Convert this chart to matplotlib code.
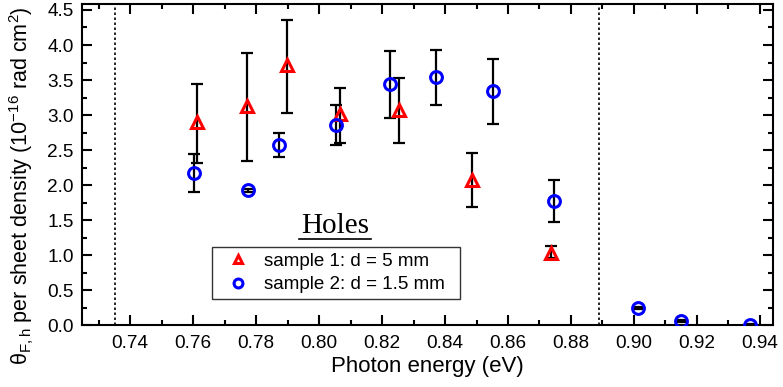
import matplotlib
matplotlib.use("Agg")
import matplotlib.pyplot as plt
from matplotlib.ticker import MultipleLocator
from matplotlib.lines import Line2D

plt.rcParams['font.family'] = ['Liberation Sans', 'DejaVu Sans']
plt.rcParams['mathtext.fontset'] = 'custom'
plt.rcParams['mathtext.rm'] = 'Liberation Sans'
plt.rcParams['mathtext.it'] = 'Liberation Sans:italic'
plt.rcParams['mathtext.bf'] = 'Liberation Sans:bold'

# Sample 1 (red triangles)
s1_energy = [0.7611, 0.7770, 0.7898, 0.8066, 0.8253, 0.8487, 0.8738]
s1_value = [2.90, 3.13, 3.71, 3.01, 3.08, 2.08, 1.04]
s1_err_hi = [3.44, 3.88, 4.36, 3.38, 3.53, 2.46, 1.13]
s1_err_lo = [2.31, 2.34, 3.03, 2.60, 2.60, 1.69, 0.96]

# Sample 2 (blue circles)
s2_energy = [0.7602, 0.7773, 0.7873, 0.8055, 0.8224, 0.8370, 0.8552, 0.8745, 0.9013, 0.9150, 0.9367]
s2_value = [2.18, 1.93, 2.58, 2.86, 3.45, 3.54, 3.345, 1.77, 0.245, 0.064, 0.007]
s2_err_hi = [2.44, 1.95, 2.75, 3.14, 3.92, 3.93, 3.80, 2.07, 0.26, 0.08, 0.02]
s2_err_lo = [1.91, 1.91, 2.40, 2.58, 2.96, 3.14, 2.88, 1.47, 0.23, 0.05, 0.0]

vlines = [0.7351, 0.8888]
labels = ['sample 1: d = 5 mm', 'sample 2: d = 1.5 mm']

fig = plt.figure(figsize=(7.83, 3.87), dpi=100)
ax = fig.add_axes([0.1047, 0.159, 0.8823, 0.8307])

for xv in vlines:
    ax.axvline(xv, color='black', linestyle=(0, (1.5, 1.5)), lw=1.2, zorder=1)

def plot_series(x, y, hi, lo, marker, color, label):
    yerr = [[v - l for v, l in zip(y, lo)], [h - v for v, h in zip(y, hi)]]
    ax.errorbar(x, y, yerr=yerr, fmt='none', ecolor='black', elinewidth=1.6,
                capsize=4.5, capthick=1.6, zorder=2)
    ax.plot(x, y, linestyle='none', marker=marker, markersize=8.5,
            markerfacecolor='none', markeredgecolor=color, markeredgewidth=2.2,
            zorder=3, label=label)

plot_series(s1_energy, s1_value, s1_err_hi, s1_err_lo, '^', '#ff0000', labels[0])
plot_series(s2_energy, s2_value, s2_err_hi, s2_err_lo, 'o', '#0000ff', labels[1])

ax.set_xlim(0.7247, 0.9441)
ax.set_ylim(0, 4.585)
ax.xaxis.set_major_locator(MultipleLocator(0.02))
ax.xaxis.set_minor_locator(MultipleLocator(0.01))
ax.yaxis.set_major_locator(MultipleLocator(0.5))
ax.yaxis.set_minor_locator(MultipleLocator(0.25))
ax.xaxis.set_major_formatter(matplotlib.ticker.FormatStrFormatter('%.2f'))
ax.yaxis.set_major_formatter(matplotlib.ticker.FormatStrFormatter('%.1f'))
ax.tick_params(which='both', direction='in', top=True, right=True, width=1.5,
               labelsize=13.7)
ax.tick_params(axis='x', pad=7)
ax.tick_params(axis='y', pad=6)
ax.tick_params(which='major', length=7)
ax.tick_params(which='minor', length=3.5)
for sp in ax.spines.values():
    sp.set_linewidth(1.5)

ax.set_xlabel('Photon energy (eV)', fontsize=16, labelpad=3)
ax.set_ylabel(r'θ$_{\mathrm{F,h}}$ per sheet density (10$^{-16}$ rad cm$^{2}$)',
              fontsize=15.5)
ax.yaxis.set_label_coords(-0.066, 0.434)

ax.text(0.366, 0.288, 'Holes', transform=ax.transAxes, ha='center',
        va='baseline', fontsize=21, family='Liberation Serif')
ax.add_line(Line2D([0.314, 0.418], [0.268, 0.268], transform=ax.transAxes,
                   color='black', lw=1.2))

leg = ax.legend(loc='lower left', bbox_to_anchor=(0.188, 0.082, 0.359, 0.165),
                mode='expand', fontsize=13.5, frameon=True, fancybox=False,
                edgecolor='black', handlelength=2.2, handletextpad=0.3,
                borderaxespad=0, labelspacing=0.35, borderpad=0.3,
                markerscale=0.75)
leg.get_frame().set_linewidth(1.0)

fig.savefig('out.png', dpi=100)
